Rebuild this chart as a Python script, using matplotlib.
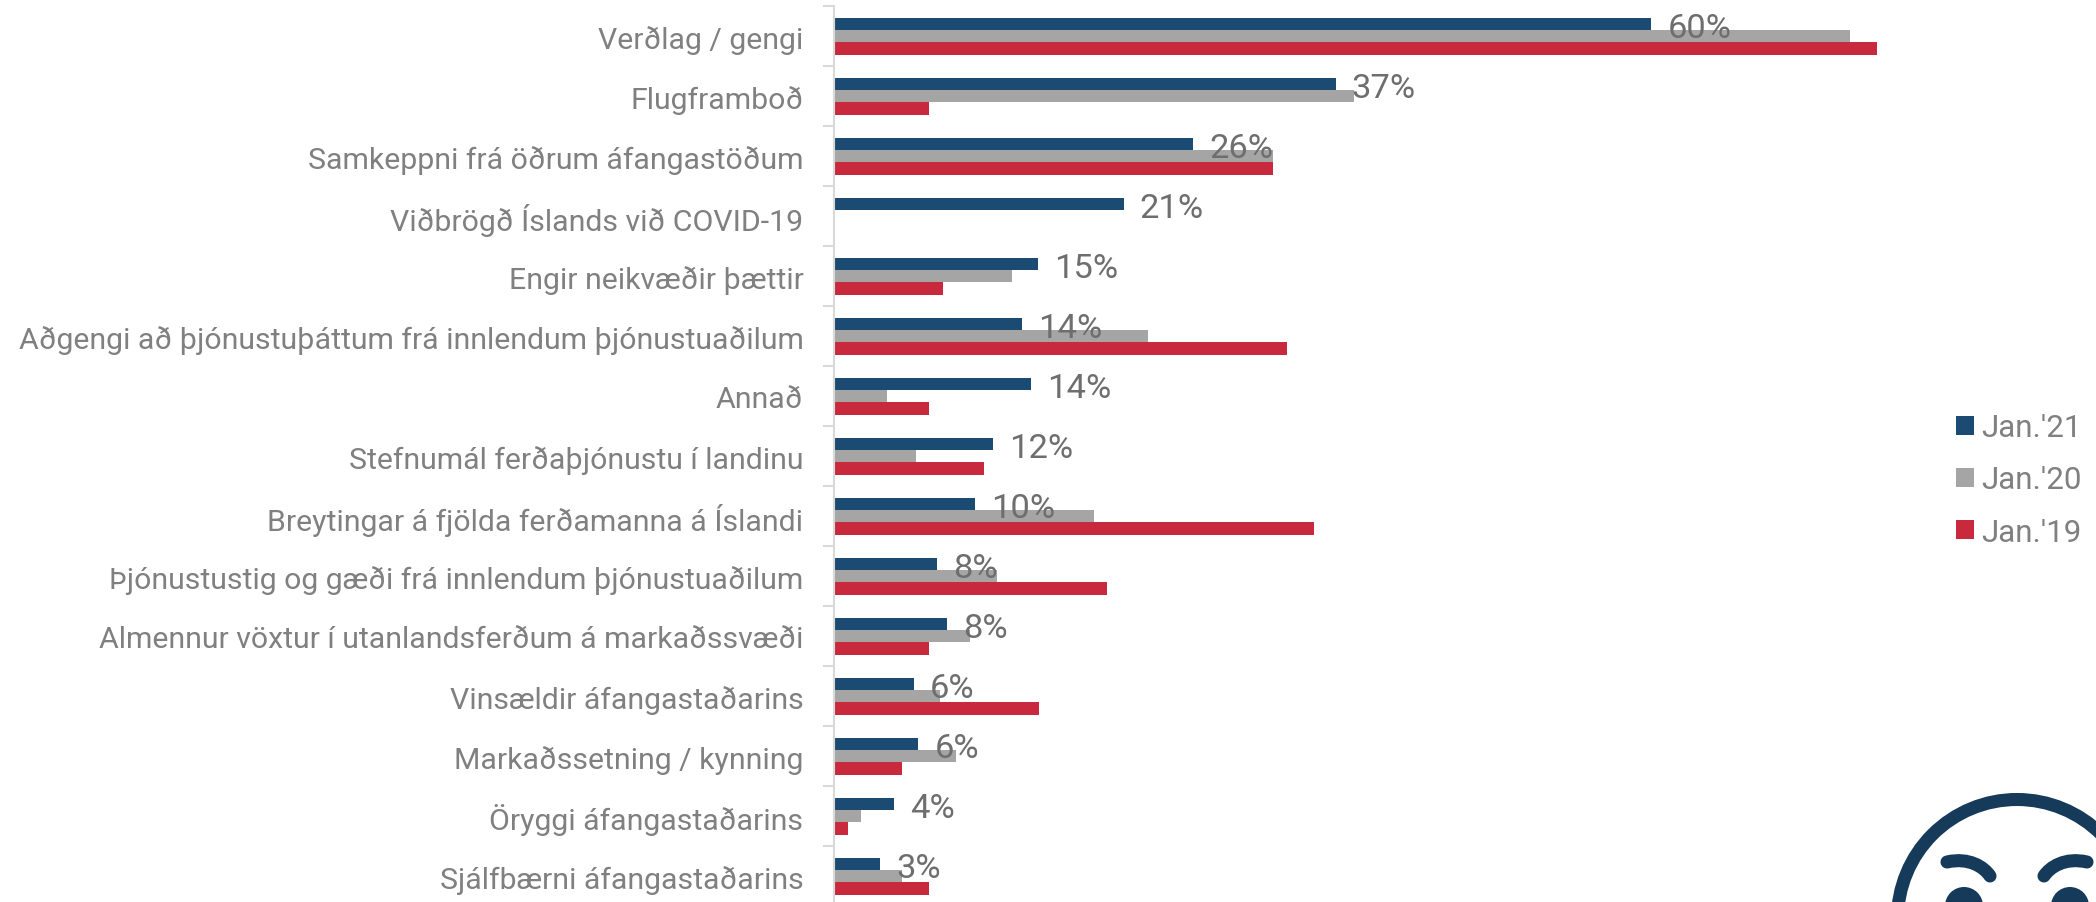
import numpy as np
import matplotlib
matplotlib.use("Agg")
import matplotlib.pyplot as plt
from matplotlib.patches import Circle, PathPatch
from matplotlib.path import Path
from matplotlib.ticker import FixedLocator

categories = ["Verðlag / gengi", "Flugframboð", "Samkeppni frá öðrum áfangastöðum",
              "Viðbrögð Íslands við COVID-19", "Engir neikvæðir þættir",
              "Aðgengi að þjónustuþáttum frá innlendum þjónustuaðilum", "Annað",
              "Stefnumál ferðaþjónustu í landinu", "Breytingar á fjölda ferðamanna á Íslandi",
              "Þjónustustig og gæði frá innlendum þjónustuaðilum",
              "Almennur vöxtur í utanlandsferðum á markaðssvæði", "Vinsældir áfangastaðarins",
              "Markaðssetning / kynning", "Öryggi áfangastaðarins", "Sjálfbærni áfangastaðarins"]
jan21 = [60.1, 36.9, 26.4, 21.3, 15.0, 13.8, 14.5, 11.7, 10.4, 7.6, 8.3, 5.9, 6.2, 4.4, 3.4]
jan20 = [74.7, 38.2, 32.3, np.nan, 13.1, 23.1, 3.9, 6.0, 19.1, 12.0, 10.0, 7.8, 9.0, 2.0, 5.0]
jan19 = [76.7, 7.0, 32.3, np.nan, 8.0, 33.3, 7.0, 11.0, 35.3, 20.1, 7.0, 15.1, 5.0, 1.0, 7.0]
labels21 = ["60%", "37%", "26%", "21%", "15%", "14%", "14%", "12%", "10%", "8%", "8%", "6%", "6%", "4%", "3%"]
series_names = ["Jan.'21", "Jan.'20", "Jan.'19"]

W, H = 2096, 903
FONT = ["Roboto", "DejaVu Sans"]
BLUE, GRAY, RED = "#1B4B73", "#A5A5A5", "#C8293D"
AXC = "#D9D9D9"

fig = plt.figure(figsize=(W / 100, H / 100), dpi=100)
plt.rcParams["font.family"] = FONT

left, top = 834, 7.2
step = 60.0
ax = fig.add_axes([left / W, 0, (W - left) / W, (H - top) / H])
ax.set_xlim(0, (W - left) / 13.6)
ax.set_ylim(-0.5 + (H - top) / step, -0.5)

y = np.arange(len(categories))
h = 0.205
b21 = ax.barh(y - h, jan21, height=h, color=BLUE, label=series_names[0])
b20 = ax.barh(y, jan20, height=h, color=GRAY, label=series_names[1])
b19 = ax.barh(y + h, jan19, height=h, color=RED, label=series_names[2])
texts = ax.bar_label(b21, labels=labels21, padding=11.5, fontsize=24.8, color="#6E6E6E",
                     fontweight="normal", family=FONT, zorder=5)
for t in texts:
    t.xyann = (t.xyann[0], t.xyann[1] - 2.6)

for s in ("top", "right", "bottom"):
    ax.spines[s].set_visible(False)
ax.spines["left"].set_color(AXC)
ax.spines["left"].set_linewidth(1.5)
ax.set_xticks([])
ax.set_yticks(y)
ax.set_yticklabels(categories, fontsize=21.8, color="#808080", fontweight="normal", family=FONT)
ax.yaxis.set_minor_locator(FixedLocator(np.arange(len(categories) + 1) - 0.5))
ax.tick_params(axis="y", which="major", length=0, pad=22)
ax.tick_params(axis="y", which="minor", length=8, width=1.5, color=AXC)

fig.legend(handles=[b21, b20, b19], labels=series_names, loc="center left",
           bbox_to_anchor=(1956 / W, 1 - 481 / H), frameon=False,
           labelcolor="#808080", handlelength=0.56, handleheight=0.56, handletextpad=0.25,
           labelspacing=0.74, borderpad=0, borderaxespad=0,
           prop={"family": FONT, "weight": "normal", "size": 22.6})

# decorative face icon, cut off by the lower edge of the picture
deco = fig.add_axes([0, 0, 1, 1], facecolor="none")
deco.set_xlim(0, W)
deco.set_ylim(H, 0)
deco.axis("off")
NAVY = "#163A59"
deco.add_patch(Circle((2017, 920), 119.5, fill=False, ec=NAVY, lw=9.4))
for sgn in (-1, 1):
    deco.add_patch(Circle((2017 + sgn * 53, 907), 19, fc=NAVY, ec="none"))
    p = Path([(2017 + sgn * 70, 863), (2017 + sgn * 48, 858), (2017 + sgn * 33, 868), (2017 + sgn * 27, 877)],
             [Path.MOVETO, Path.CURVE4, Path.CURVE4, Path.CURVE4])
    deco.add_patch(PathPatch(p, fill=False, ec=NAVY, lw=9.4, capstyle="round"))

fig.savefig("out.png", dpi=100)
